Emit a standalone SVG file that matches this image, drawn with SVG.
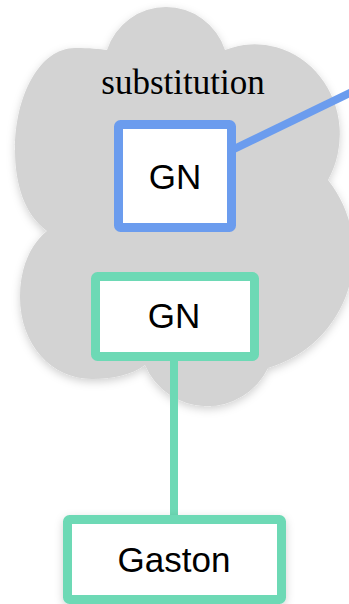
<svg xmlns="http://www.w3.org/2000/svg" width="349" height="604" viewBox="0 0 349 604">
<defs>
<filter id="sh" x="-20%" y="-20%" width="140%" height="140%">
<feDropShadow dx="0" dy="3" stdDeviation="4" flood-color="#000" flood-opacity="0.18"/>
</filter>
<style>
.cloud{fill:#d3d3d3}
.box{fill:#fff;stroke-width:9;stroke-linejoin:round}
.blue{stroke:#6b9cee}
.green{stroke:#6dd9b5}
.lbl{font-family:"Liberation Sans",Arial,sans-serif;font-size:35px;fill:#000;text-anchor:middle}
.title{font-family:"Liberation Serif","Times New Roman",serif;font-size:35px;fill:#000;text-anchor:middle}
.edge{fill:none;stroke-width:8}
</style>
</defs>
<g id="cloud">
<path class="cloud" filter="url(#sh)" d="M107,50 A62 62 0 0 1 225,50 A85 90 0 0 1 328,180 A119 119 0 0 1 268,368 A67.5 67.5 0 0 1 145,365 C132,375 112,379 92,379 C52,379 20,345 20,297 C20,268 30,245 47,231 C25,215 15,185 15,150 C15,95 40,48 75,48 C90,48 100,49 107,50 Z"/>
<text class="title" x="183" y="94">substitution</text>
</g>
<g id="connectors">
<line class="edge blue" x1="232" y1="150" x2="360" y2="88" stroke-width="7"/>
<line class="edge green" x1="174" y1="356" x2="174" y2="520"/>
</g>
<g id="node-gn1">
<rect class="box blue" x="118.5" y="124.5" width="113" height="103" rx="2" stroke-width="8"/>
<text class="lbl" x="175" y="189">GN</text>
</g>
<g id="node-gn2">
<rect class="box green" x="95.5" y="276.5" width="159" height="80" rx="2"/>
<text class="lbl" x="174" y="328">GN</text>
</g>
<g id="node-gaston">
<rect class="box green" x="67.5" y="519.5" width="214" height="80" rx="2" filter="url(#sh)"/>
<text class="lbl" x="174" y="572">Gaston</text>
</g>
</svg>
